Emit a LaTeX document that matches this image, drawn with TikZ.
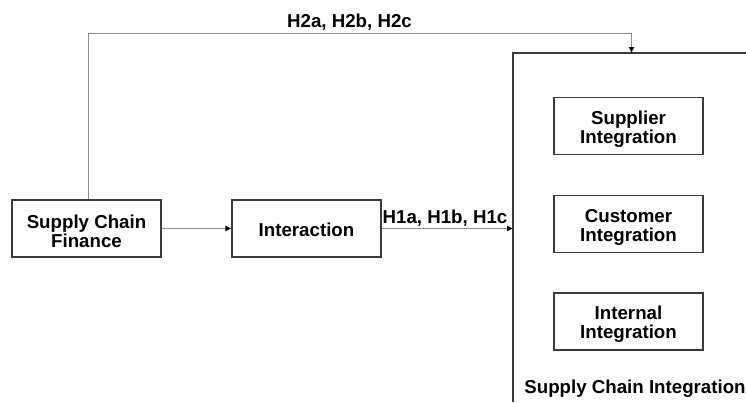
\documentclass[tikz,border=0pt]{standalone}
\usepackage{fontspec}
\setmainfont{Liberation Sans}
\usetikzlibrary{arrows.meta}
\definecolor{conngray}{HTML}{8C8C8C}
\definecolor{boxgray}{HTML}{3A3A3A}
\begin{document}
\begin{tikzpicture}[x=1pt,y=-1pt,
  txt/.style={font=\bfseries\fontsize{18.7}{19}\selectfont, text=black},
  box/.style={draw=boxgray, line width=1.1pt, minimum width=149pt, minimum height=57pt,
    inner sep=0pt},
  boxtxt/.style={txt, align=center, inner sep=0pt, yshift=-3pt},
  conn/.style={draw=conngray, line width=0.9pt, -{Latex[length=6pt,width=6pt,color=black]}},
  lbl/.style={txt, inner sep=0pt, anchor=base}]
\useasboundingbox (0,0) rectangle (746,402);
% outer container (partly visible)
\coordinate (sciBL) at (513,402);
\coordinate (sciTL) at (513,53);
\coordinate (sciTR) at (746,53);
\draw[draw=boxgray, line width=1.5pt] (sciBL) -- (sciTL) -- (sciTR);
% boxes
\node[box, label={[boxtxt]center:Supply Chain\\Finance}] (scf) at (86.5,228.5) {};
\node[box, label={[boxtxt, yshift=1.5pt]center:Interaction}] (inter) at (306.5,228.5) {};
\node[box, label={[boxtxt]center:Supplier\\Integration}] (sup) at (628.5,126) {};
\node[box, label={[boxtxt]center:Customer\\Integration}] (cus) at (628.5,224) {};
\node[box, label={[boxtxt]center:Internal\\Integration}] (intl) at (628.5,321.5) {};
\node[lbl] (scilbl) at (635,393.5) {Supply Chain Integration};
% connectors
\coordinate (sciIn) at (513,228.5);
\coordinate (h2a) at (88,33.5);
\coordinate (h2b) at (631.5,33.5);
\coordinate (sciTop) at (631.5,53);
\draw[conn] (scf.east) -- (inter.west);
\draw[conn] (inter.east) -- (sciIn);
\draw[conn] (scf.north -| h2a) -- (h2a) -- (h2b) -- (sciTop);
\node[lbl] (h1) at (445,223.5) {H1a, H1b, H1c};
\node[lbl] (h2) at (349.5,27) {H2a, H2b, H2c};
\end{tikzpicture}
\end{document}
